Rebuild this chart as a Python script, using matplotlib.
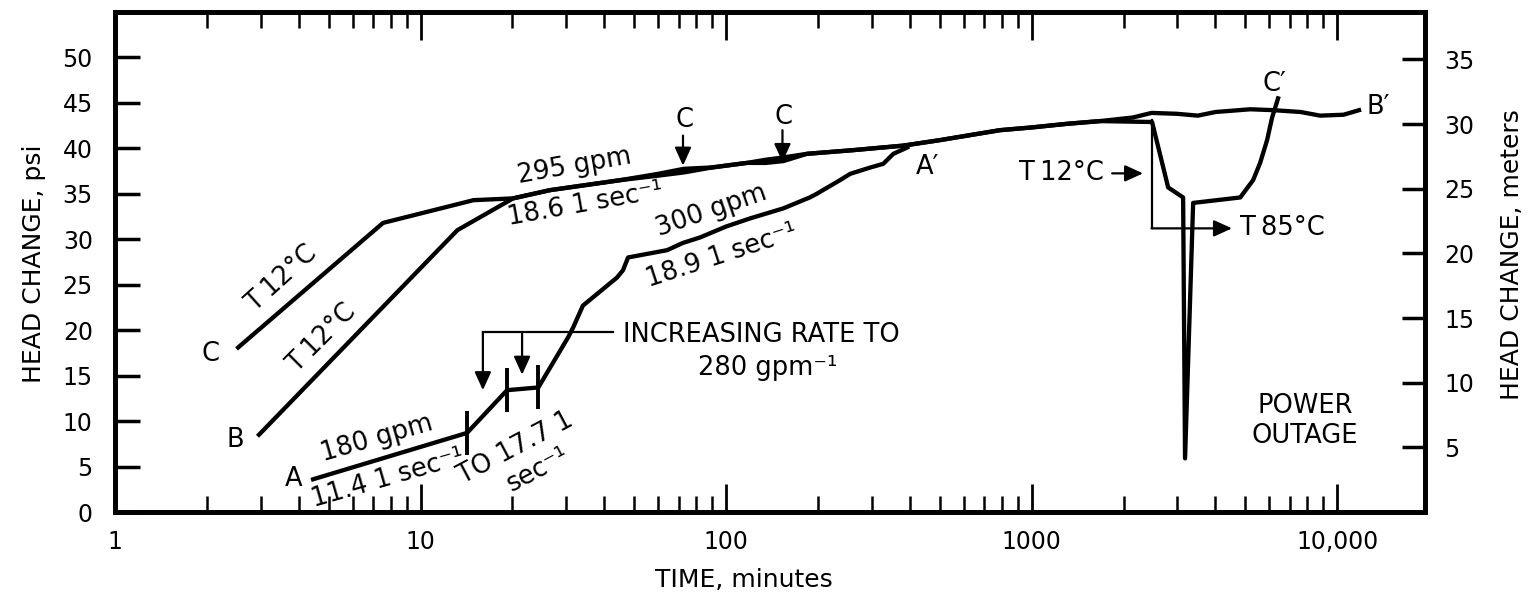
import matplotlib
matplotlib.use("Agg")
import matplotlib.pyplot as plt
from matplotlib.ticker import (FixedLocator, FuncFormatter, LogLocator,
                               NullFormatter)

# ---------------- data: head change (psi) against time (minutes) ----------------
# Run A (180 gpm stepped up to 300 gpm)
a_time = [4.45, 14.2, 19.2, 24.3, 30.4, 31.6, 34.0, 44.0, 46.0, 47.8, 64.1,
          72.3, 82.2, 100, 120, 154, 188, 198, 236, 255, 297, 327, 353, 392]
a_head = [3.6, 8.7, 13.4, 13.7, 19.2, 20.3, 22.7, 25.8, 26.6, 28.0, 28.8,
          29.6, 30.2, 31.4, 32.3, 33.4, 34.6, 35.0, 36.5, 37.2, 37.9, 38.3,
          39.4, 40.1]
a_rate_steps = [1, 2, 3]          # vertices where the pumping rate was changed

# Run B (295 gpm, continued through the power outage)
b_time = [2.96, 13.2, 20.1, 26.5, 45.0, 60, 72.7, 90, 117, 135, 154, 184, 260,
          380, 500, 788, 1000, 1306, 1675, 2150, 2470, 3000, 3500, 4000, 5200,
          6200, 7600, 8800, 10500, 11800]
b_head = [8.5, 31.0, 34.5, 35.4, 36.5, 37.0, 37.35, 37.9, 38.4, 38.4, 38.6,
          39.4, 39.8, 40.3, 40.9, 42.0, 42.3, 42.7, 43.0, 43.4, 43.9, 43.8,
          43.6, 44.0, 44.3, 44.2, 44.0, 43.6, 43.7, 44.2]

# Run C (hot-water injection, drop during the power outage)
c_time = [2.53, 7.54, 14.9, 20.1, 26.5, 45.0, 60, 72.7, 90, 117, 135, 154,
          184, 260, 380, 500, 788, 1000, 1306, 1675, 2480, 2800, 3134, 3180,
          3380, 4820, 5310, 5600, 5900, 6130, 6410]
c_head = [18.1, 31.8, 34.3, 34.5, 35.4, 36.5, 37.2, 37.75, 37.9, 38.4, 38.75,
          39.0, 39.4, 39.8, 40.3, 40.9, 42.0, 42.3, 42.7, 43.0, 42.9, 35.7,
          34.6, 5.9, 34.0, 34.6, 36.5, 38.4, 40.9, 43.4, 45.5]

x_ticks = [1, 10, 100, 1000, 10000]
psi_ticks = [0, 5, 10, 15, 20, 25, 30, 35, 40, 45, 50]
meter_ticks = [5, 10, 15, 20, 25, 30, 35]
PSI_TO_M = 0.70307

# ---------------- figure ----------------
plt.rcParams["font.family"] = ["DejaVu Sans"]
plt.rcParams["font.size"] = 18.5

TICK_FS = 17
LABEL_FS = 18
NOTE_FS = 18.5

fig = plt.figure(figsize=(15.28, 5.93), dpi=100)
ax = fig.add_axes([115 / 1528, 81 / 593, 1310 / 1528, 500 / 593])
ax.set_xscale("log")
ax.set_xlim(1, 19400)
ax.set_ylim(0, 55)

lw = 3.1
ax.plot(a_time, a_head, color="black", lw=lw, solid_joinstyle="round",
        marker="|", markersize=32, markeredgewidth=2.8, markevery=a_rate_steps)
ax.plot(b_time, b_head, color="black", lw=lw, solid_joinstyle="round")
ax.plot(c_time, c_head, color="black", lw=lw, solid_joinstyle="round")

# ---------------- axes styling ----------------
for sp in ax.spines.values():
    sp.set_linewidth(3.4)

ax.xaxis.set_major_locator(FixedLocator(x_ticks))
ax.xaxis.set_major_formatter(FuncFormatter(
    lambda v, _: f"{v:,.0f}" if v >= 10000 else f"{v:.0f}"))
ax.xaxis.set_minor_locator(LogLocator(base=10, subs=range(2, 10), numticks=20))
ax.xaxis.set_minor_formatter(NullFormatter())
ax.tick_params(axis="x", which="major", direction="in", top=True, bottom=True,
               length=20, width=2.0, pad=13, labelsize=TICK_FS)
ax.tick_params(axis="x", which="minor", direction="in", top=True, bottom=True,
               length=11.5, width=1.8)

ax.yaxis.set_major_locator(FixedLocator(psi_ticks))
ax.tick_params(axis="y", which="major", direction="in", left=True, right=False,
               length=18, width=2.5, pad=16, labelsize=TICK_FS)
ax.set_ylabel("HEAD CHANGE, psi", fontsize=LABEL_FS, va="center")
ax.yaxis.set_label_coords(-0.062, 0.496)
ax.set_xlabel("TIME, minutes", fontsize=LABEL_FS)
ax.xaxis.set_label_coords(0.48, -0.112)

ax2 = ax.twinx()
ax2.set_ylim(0, 55 * PSI_TO_M)
ax2.yaxis.set_major_locator(FixedLocator(meter_ticks))
ax2.tick_params(axis="y", which="major", direction="in", right=True,
                length=16.5, width=2.5, pad=14, labelsize=TICK_FS)
for sp in ax2.spines.values():
    sp.set_linewidth(3.4)
ax2.set_ylabel("HEAD CHANGE, meters", fontsize=LABEL_FS, va="center")
ax2.yaxis.set_label_coords(1.0664, 0.514)

# ---------------- annotations ----------------
txt = dict(fontsize=NOTE_FS, color="black", rotation_mode="anchor",
           ha="center", va="center")
ax.text(2.06, 17.4, "C", **txt)
ax.text(2.47, 7.9, "B", **txt)
ax.text(3.83, 3.6, "A", **txt)
ax.text(3.52, 25.7, "T\u200912°C", rotation=42, **txt)
ax.text(4.76, 19.1, "T\u200912°C", rotation=45, **txt)
ax.text(32.0, 38.0, "295 gpm", rotation=10, **txt)
ax.text(34.6, 33.8, "18.6 1 sec⁻¹", rotation=10, **txt)
ax.text(89.3, 33.1, "300 gpm", rotation=19, **txt)
ax.text(97.0, 28.2, "18.9 1 sec⁻¹", rotation=18, **txt)
ax.text(7.21, 8.1, "180 gpm", rotation=16, **txt)
ax.text(7.83, 3.7, "11.4 1 sec⁻¹", rotation=16, **txt)
ax.text(20.4, 7.0, "TO 17.7 1", rotation=28, **txt)
ax.text(24.3, 4.6, "sec⁻¹", rotation=28, **txt)
ax.text(458, 38.0, "A′", **txt)
ax.text(6220, 47.1, "C′", **txt)
ax.text(13620, 44.5, "B′", **txt)
ax.text(7860, 10.0, "POWER\nOUTAGE", linespacing=1.2, **txt)

arrow = dict(arrowstyle="-|>,head_length=0.55,head_width=0.25",
             color="black", lw=1.6, mutation_scale=20, shrinkA=0, shrinkB=0)

# C markers pointing at the curve
ax.text(72.9, 43.1, "C", **txt)
ax.annotate("", xy=(72.3, 38.1), xytext=(72.3, 41.4), arrowprops=arrow)
ax.text(153.7, 43.5, "C", **txt)
ax.annotate("", xy=(153, 38.5), xytext=(153, 42.0), arrowprops=arrow)

# bracket for the increasing-rate steps
ax.plot([16.0, 42.7], [19.8, 19.8], color="black", lw=1.6)
ax.annotate("", xy=(16.0, 13.4), xytext=(16.0, 19.8), arrowprops=arrow)
ax.annotate("", xy=(21.5, 15.1), xytext=(21.5, 19.8), arrowprops=arrow)
ax.text(46.0, 19.45, "INCREASING RATE TO", fontsize=NOTE_FS, ha="left",
        va="center")
ax.text(81.0, 15.8, "280 gpm⁻¹", fontsize=NOTE_FS, ha="left", va="center")

# temperature change during the outage
ax.plot([2470, 2470], [43.1, 31.2], color="black", lw=1.6)
ax.annotate("", xy=(4530, 31.2), xytext=(2470, 31.2), arrowprops=arrow)
ax.text(4810, 31.2, "T\u200985°C", fontsize=NOTE_FS, ha="left", va="center")
ax.text(1727, 37.25, "T\u200912°C", fontsize=NOTE_FS, ha="right", va="center")
ax.annotate("", xy=(2317, 37.25), xytext=(1836, 37.25), arrowprops=arrow)

fig.savefig("out.png", dpi=100, facecolor="white")
